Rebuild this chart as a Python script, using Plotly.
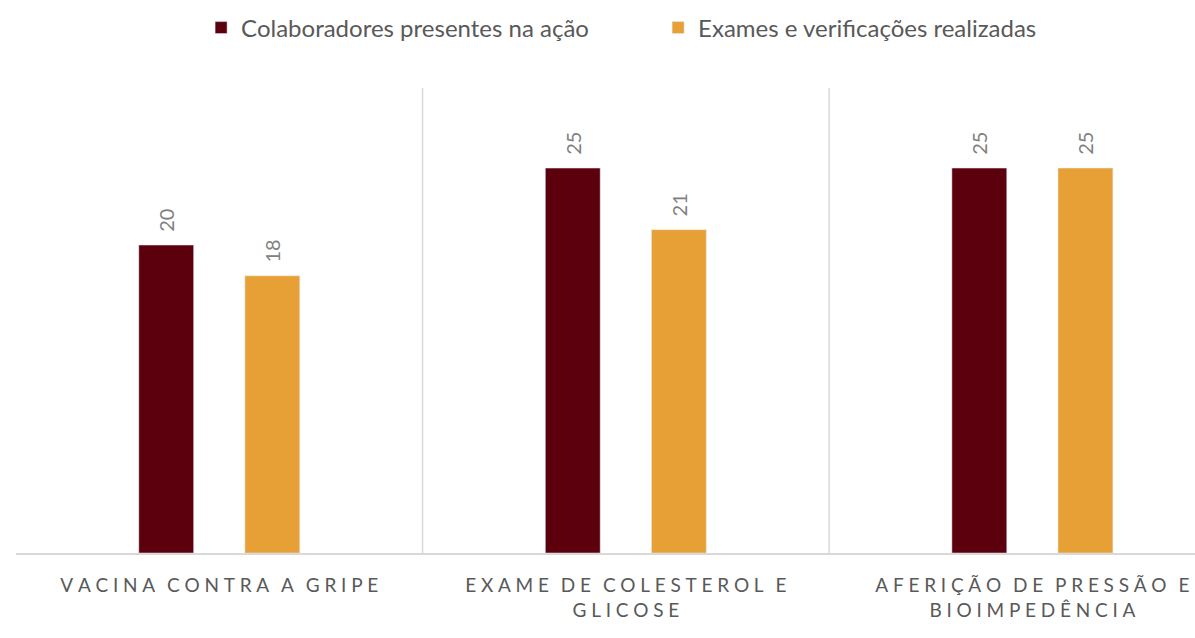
import plotly.graph_objects as go

categories = ["VACINA CONTRA A GRIPE", "EXAME DE COLESTEROL E<br>GLICOSE", "AFERIÇÃO DE PRESSÃO E<br>BIOIMPEDÊNCIA"]
colaboradores = [20, 25, 25]
exames = [18, 21, 25]

FONT = "Lato, Open Sans, sans-serif"


def spaced(label):
    # spread the letters the way the original axis labels are
    lines = label.split("<br>")
    out = []
    for line in lines:
        words = line.split(" ")
        out.append("\u2002\u2009".join("\u2005".join(w) for w in words))
    return "<br>".join(out)


tick_text = [spaced(c) for c in categories]
x_pos = list(range(len(categories)))

fig = go.Figure()
fig.add_trace(go.Bar(
    name="Colaboradores presentes na ação",
    x=x_pos, y=colaboradores,
    width=0.135, offset=-0.198,
    marker_color="#5c000e",
    text=colaboradores, texttemplate="\u00a0\u00a0%{text}", textposition="outside", textangle=-90,
    textfont=dict(color="#808080", size=20, family=FONT),
    cliponaxis=False,
))
fig.add_trace(go.Bar(
    name="Exames e verificações realizadas",
    x=x_pos, y=exames,
    width=0.135, offset=0.063,
    marker_color="#e6a036",
    text=exames, texttemplate="\u00a0\u00a0%{text}", textposition="outside", textangle=-90,
    textfont=dict(color="#808080", size=20, family=FONT),
    cliponaxis=False,
))

# separators between the groups
for sep in [0.5, 1.5]:
    fig.add_shape(type="line", x0=sep, x1=sep, y0=0, y1=1, xref="x", yref="paper",
                  line=dict(color="#d9d9d9", width=1.5))

fig.update_layout(
    width=1195, height=638,
    margin=dict(l=16, r=0, t=88, b=85),
    paper_bgcolor="white", plot_bgcolor="white",
    font=dict(family=FONT, color="#595959"),
    barmode="overlay",
    showlegend=True,
    legend=dict(orientation="h", x=0.157, xanchor="left", y=1.129, yanchor="middle",
                font=dict(size=24, color="#595959"), itemwidth=30, tracegroupgap=0,
                entrywidth=412, entrywidthmode="pixels"),
    xaxis=dict(range=[-0.5, 2.4], tickvals=x_pos, ticktext=tick_text,
               showgrid=False, showline=True, linecolor="#d9d9d9", linewidth=2,
               ticks="", ticklabelstandoff=14, tickfont=dict(size=19, color="#595959"),
               zeroline=False),
    yaxis=dict(range=[0, 30.2], visible=False, showgrid=False, zeroline=False),
)

fig.write_html("out.html", config={"displayModeBar": False},
               post_script="document.body.style.margin='0';")
